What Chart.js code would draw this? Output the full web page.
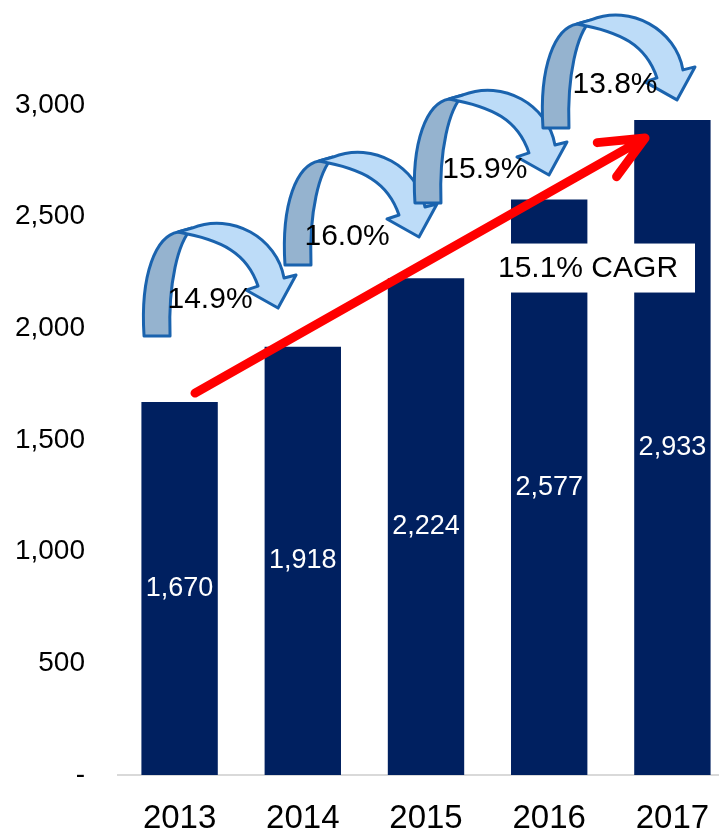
<!DOCTYPE html>
<html>
<head>
<meta charset="utf-8">
<script src="https://cdn.jsdelivr.net/npm/chart.js@4.4.1/dist/chart.umd.min.js"></script>
<style>
  html, body { margin: 0; padding: 0; background: #fff; overflow: hidden; }
  #wrap { width: 736px; height: 833px; }
</style>
</head>
<body>
<div id="wrap"><canvas id="myChart" width="736" height="833"></canvas></div>
<script>
const years = ['2013', '2014', '2015', '2016', '2017'];
const revenue = [1670, 1918, 2224, 2577, 2933];
const growthLabels = ['14.9%', '16.0%', '15.9%', '13.8%'];
const cagrLabel = '15.1% CAGR';

const FONT = "'Liberation Sans', Arial, sans-serif";
const NAVY = '#002060';

// where the decorations sit, in axis units (category index, value)
const LOOPS = [
  {x: 0.101, y: 2449, tx: 0.247, ty: 2127},
  {x: 1.245, y: 2767, tx: 1.359, ty: 2409},
  {x: 2.300, y: 3045, tx: 2.478, ty: 2709},
  {x: 3.339, y: 3381, tx: 3.534, ty: 3090}
];
const TREND = {x0: 0.125, y0: 1710, x1: 3.778, y1: 2852};
const CAGR_BOX = {x: 3.315, y: 2270, w: 214, h: 49};

function curvedArrow(ctx, x, y) {
  ctx.save();
  ctx.translate(x, y);
  ctx.lineWidth = 3;
  ctx.lineJoin = 'round';
  ctx.strokeStyle = '#1a63ae';

  // back part of the loop
  ctx.beginPath();
  ctx.moveTo(-14, 4);
  ctx.bezierCurveTo(-36, 8, -52, 46, -48, 108);
  ctx.lineTo(-22, 108);
  ctx.bezierCurveTo(-24, 55, -14, 14, 0, 0);
  ctx.closePath();
  ctx.fillStyle = '#95b3cf';
  ctx.fill();
  ctx.stroke();

  // front part with the head
  ctx.beginPath();
  ctx.moveTo(0, 0);
  ctx.bezierCurveTo(40, -16, 85, 10, 92, 50);
  ctx.lineTo(104, 47);
  ctx.lineTo(86, 80);
  ctx.lineTo(54, 62);
  ctx.lineTo(66, 58);
  ctx.bezierCurveTo(55, 25, 30, 12, -14, 4);
  ctx.closePath();
  ctx.fillStyle = '#bddcf8';
  ctx.fill();
  ctx.stroke();
  ctx.restore();
}

const barLabels = {
  id: 'barLabels',
  afterDatasetsDraw(chart) {
    const {ctx} = chart;
    const meta = chart.getDatasetMeta(0);
    ctx.save();
    ctx.font = '27px ' + FONT;
    ctx.fillStyle = '#fff';
    ctx.textAlign = 'center';
    ctx.textBaseline = 'middle';
    meta.data.forEach((bar, i) => {
      ctx.fillText(revenue[i].toLocaleString('en-US'), bar.x, (bar.y + bar.base) / 2);
    });
    ctx.restore();
  }
};

const overlay = {
  id: 'overlay',
  afterDraw(chart) {
    const {ctx} = chart;
    const xs = chart.scales.x;
    const ys = chart.scales.y;

    // red trend arrow
    const ax = xs.getPixelForValue(TREND.x0), ay = ys.getPixelForValue(TREND.y0);
    const bx = xs.getPixelForValue(TREND.x1), by = ys.getPixelForValue(TREND.y1);
    const ang = Math.atan2(by - ay, bx - ax);
    const len = 48;
    ctx.save();
    ctx.strokeStyle = '#ff0000';
    ctx.lineWidth = 9;
    ctx.lineCap = 'round';
    ctx.lineJoin = 'round';
    ctx.beginPath();
    ctx.moveTo(ax, ay);
    ctx.lineTo(bx, by);
    ctx.moveTo(bx + len * Math.cos(ang + Math.PI - 0.42), by + len * Math.sin(ang + Math.PI - 0.42));
    ctx.lineTo(bx, by);
    ctx.lineTo(bx + len * Math.cos(ang + Math.PI + 0.42), by + len * Math.sin(ang + Math.PI + 0.42));
    ctx.stroke();
    ctx.restore();

    // CAGR call-out
    const cx = xs.getPixelForValue(CAGR_BOX.x), cy = ys.getPixelForValue(CAGR_BOX.y);
    ctx.save();
    ctx.fillStyle = '#fff';
    ctx.fillRect(cx - CAGR_BOX.w / 2, cy - CAGR_BOX.h / 2, CAGR_BOX.w, CAGR_BOX.h);
    ctx.fillStyle = '#000';
    ctx.font = '30px ' + FONT;
    ctx.textAlign = 'center';
    ctx.textBaseline = 'middle';
    ctx.fillText(cagrLabel, cx, cy + 1);
    ctx.restore();

    // year-on-year loops and their growth rates
    LOOPS.forEach(p => curvedArrow(ctx, xs.getPixelForValue(p.x), ys.getPixelForValue(p.y)));
    ctx.save();
    ctx.fillStyle = '#000';
    ctx.font = '30px ' + FONT;
    ctx.textAlign = 'center';
    ctx.textBaseline = 'middle';
    LOOPS.forEach((p, i) => {
      ctx.fillText(growthLabels[i], xs.getPixelForValue(p.tx), ys.getPixelForValue(p.ty));
    });
    ctx.restore();
  }
};

const ctx = document.getElementById('myChart');

new Chart(ctx, {
  type: 'bar',
  data: {
    labels: years,
    datasets: [{
      data: revenue,
      backgroundColor: NAVY,
      categoryPercentage: 1.0,
      barPercentage: 0.62
    }]
  },
  options: {
    responsive: false,
    animation: false,
    layout: {padding: {top: 105, right: 2, left: 0, bottom: 0}},
    plugins: {
      legend: {display: false},
      tooltip: {enabled: false}
    },
    scales: {
      x: {
        grid: {display: false, drawTicks: false},
        border: {display: true, color: '#d9d9d9', width: 2},
        ticks: {color: '#000', padding: 24, font: {family: FONT, size: 33}},
        afterFit(scale) { scale.height = 58; }
      },
      y: {
        min: 0,
        max: 3000,
        grid: {display: false, drawTicks: false},
        border: {display: false},
        ticks: {
          stepSize: 500,
          color: '#000',
          padding: 33,
          font: {family: FONT, size: 28},
          callback: v => v === 0 ? '-' : v.toLocaleString('en-US')
        },
        afterFit(scale) { scale.width = 118; }
      }
    }
  },
  plugins: [barLabels, overlay]
});
</script>
</body>
</html>
